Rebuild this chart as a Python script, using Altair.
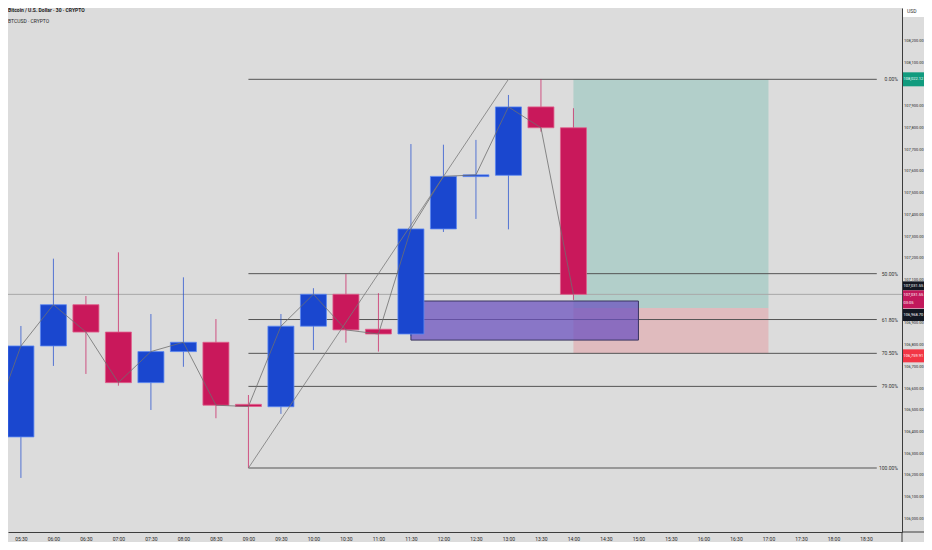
import altair as alt
import pandas as pd

# ---------------- data ----------------
title_line1 = "Bitcoin / U.S. Dollar · 30 · CRYPTO"
title_line2 = "BTCUSD · CRYPTO"
currency = "USD"

candle_times = ["05:30", "06:00", "06:30", "07:00", "07:30", "08:00", "08:30", "09:00", "09:30",
                "10:00", "10:30", "11:00", "11:30", "12:00", "12:30", "13:00", "13:30", "14:00"]
opens = [106375, 106794, 106984, 106858, 106625, 106768, 106811, 106525, 106514,
         106885, 107032, 106871, 106849, 107333, 107574, 107580, 107895, 107799]
highs = [106886, 107196, 107024, 107225, 106941, 107110, 106918, 106568, 106941,
         107060, 107125, 107037, 107724, 107721, 107743, 107950, 108022.12, 107889]
lows = [106186, 106702, 106665, 106611, 106499, 106698, 106461, 106231.75, 106481,
        106775, 106809, 106768, 106840, 107319, 107379, 107331, 107781, 107006]
closes = [106794, 106984, 106858, 106625, 106768, 106811, 106521, 106515, 106885,
          107032, 106868, 106849, 107333, 107575, 107582, 107895, 107799, 107031.55]
prior_time = "05:00"
prior_close = 106380

time_ticks = ["05:30", "06:00", "06:30", "07:00", "07:30", "08:00", "08:30", "09:00", "09:30",
              "10:00", "10:30", "11:00", "11:30", "12:00", "12:30", "13:00", "13:30", "14:00",
              "14:30", "15:00", "15:30", "16:00", "16:30", "17:00", "17:30", "18:00", "18:30"]
# price-scale labels that are visible (108,000 and 107,000 sit under the price tags)
price_ticks = [106000, 106100, 106200, 106300, 106400, 106500, 106600, 106700, 106800,
               106900, 107100, 107200, 107300, 107400, 107500, 107600, 107700, 107800,
               107900, 108100, 108200]

fib_labels = ["0.00%", "50.00%", "61.80%", "70.50%", "79.00%", "100.00%"]
fib_prices = [108022.12, 107126.94, 106915.69, 106759.91, 106607.73, 106231.75]
fib_start, fib_end = "09:00", "18:40"
fib_trend_times = ["09:00", "13:00"]
fib_trend_prices = [106231.75, 108022.12]

pos_start, pos_end = "14:00", "17:00"
target_price = 108022.12
entry_price = 106968.70
stop_price = 106759.91

zone_times = ["11:30", "15:00"]
zone_prices = [107001, 106821]

last_price = 107031.55
countdown = "03:05"


def hrs(t):
    h, m = t.split(":")
    return int(h) + int(m) / 60.0


# ---------------- styling ----------------
W, H = 894, 524
PAD_R = 22
X_DOMAIN = [5.3783, 18.9775]
Y_DOMAIN = [105937.0, 108350.6]
FONT = "Roboto"
FS = 5
FS_PRICE = 4.0
BG = "#dcdcdc"
BLUE = "#1a47cf"
RED = "#c9185b"
BLUE_EDGE = "#5a86f2"
RED_EDGE = "#e0608c"

xscale = alt.Scale(domain=X_DOMAIN, nice=False, zero=False)
yscale = alt.Scale(domain=Y_DOMAIN, nice=False, zero=False)

xaxis = alt.Axis(values=[hrs(t) for t in time_ticks],
                 labelExpr="format(floor(datum.value),'02d') + ':' + (datum.value % 1 > 0.25 ? '30' : '00')",
                 title=None, grid=False, ticks=False, tickSize=0, domain=True,
                 domainColor="#3c3c3c", domainWidth=1, labelFont=FONT, labelFontSize=FS,
                 labelColor="#2a2a2a", labelPadding=4, labelOverlap=False, labelFlush=False)
yaxis = alt.Axis(values=price_ticks, format=",.2f", orient="right", title=None, grid=False,
                 ticks=False, tickSize=0, domain=True, domainColor="#3c3c3c", domainWidth=1,
                 labelFont=FONT, labelFontSize=FS_PRICE, labelColor="#2a2a2a", labelPadding=1.5,
                 labelOverlap=False, labelFlush=False, labelBaseline="middle")


def X(field):
    return alt.X(field, type="quantitative", scale=xscale, axis=xaxis)


def Y(field):
    return alt.Y(field, type="quantitative", scale=yscale, axis=yaxis)


# ---------------- tables ----------------
candles = pd.DataFrame({
    "t": [hrs(t) for t in candle_times],
    "o": opens, "h": highs, "l": lows, "c": closes,
})
candles["dir"] = ["up" if c >= o else "down" for o, c in zip(opens, closes)]

close_line = pd.DataFrame({
    "t": [hrs(prior_time)] + [hrs(t) for t in candle_times],
    "p": [prior_close] + closes,
})
close_line["i"] = range(len(close_line))

fib = pd.DataFrame({"p": fib_prices, "label": fib_labels,
                    "t1": hrs(fib_start), "t2": hrs(fib_end)})
trend = pd.DataFrame({"t": [hrs(t) for t in fib_trend_times], "p": fib_trend_prices, "i": [0, 1]})

profit = pd.DataFrame({"t1": [hrs(pos_start)], "t2": [hrs(pos_end)], "p1": [target_price], "p2": [entry_price]})
loss = pd.DataFrame({"t1": [hrs(pos_start)], "t2": [hrs(pos_end)], "p1": [entry_price], "p2": [stop_price]})
zone = pd.DataFrame({"t1": [hrs(zone_times[0])], "t2": [hrs(zone_times[1])],
                     "p1": [zone_prices[0]], "p2": [zone_prices[1]]})
last = pd.DataFrame({"p": [last_price]})
one = pd.DataFrame({"a": [0]})

dir_scale = alt.Scale(domain=["up", "down"], range=[BLUE, RED])
edge_scale = alt.Scale(domain=["up", "down"], range=[BLUE_EDGE, RED_EDGE])

# ---------------- layers ----------------
profit_l = alt.Chart(profit).mark_rect(fill="#089981", fillOpacity=0.2).encode(
    x=X("t1"), x2="t2", y=Y("p1"), y2="p2")
loss_l = alt.Chart(loss).mark_rect(fill="#f23645", fillOpacity=0.2).encode(
    x=X("t1"), x2="t2", y=Y("p1"), y2="p2")

fib_l = alt.Chart(fib).mark_rule(color="#555555", strokeWidth=1).encode(
    x=X("t1"), x2="t2", y=Y("p"))
fib_txt = alt.Chart(fib).mark_text(align="right", baseline="middle", font=FONT, fontSize=FS,
                                   color="#333333").encode(
    x=alt.value(890), y=Y("p"), text="label:N")

last_l = alt.Chart(last).mark_rule(color="#a9a9a9", strokeWidth=1).encode(
    y=Y("p"), x=alt.value(0), x2=alt.value(W))

zone_l = alt.Chart(zone).mark_rect(fill="#6a4fbf", fillOpacity=0.72, stroke="#3a3560",
                                   strokeWidth=1).encode(
    x=X("t1"), x2="t2", y=Y("p1"), y2="p2")

wicks = alt.Chart(candles).mark_rule(strokeWidth=1, opacity=0.7).encode(
    x=X("t"), y=Y("l"), y2="h",
    color=alt.Color("dir:N", scale=dir_scale, legend=None))
bodies = alt.Chart(candles).mark_bar(size=26, strokeWidth=0.8).encode(
    x=X("t"), y=Y("o"), y2="c",
    color=alt.Color("dir:N", scale=dir_scale, legend=None),
    stroke=alt.Stroke("dir:N", scale=edge_scale, legend=None))

close_l = alt.Chart(close_line).mark_line(color="#6e6e6e", strokeWidth=0.8, clip=True).encode(
    x=X("t"), y=Y("p"), order="i:Q")
trend_l = alt.Chart(trend).mark_line(color="#7a7a7a", strokeWidth=0.8).encode(
    x=X("t"), y=Y("p"), order="i:Q")

TAG_X1, TAG_X2 = 895, W + PAD_R


def tag(price, fill, top, bottom, lines):
    d = pd.DataFrame({"p": [price]})
    layers = [alt.Chart(d).mark_rect(fill=fill, yOffset=top, y2Offset=bottom).encode(
        y=Y("p"), y2="p", x=alt.value(TAG_X1), x2=alt.value(TAG_X2))]
    for text, dy in lines:
        layers.append(alt.Chart(d).mark_text(align="left", baseline="middle", font=FONT,
                                             fontSize=FS_PRICE, color="white", dy=dy).encode(
            y=Y("p"), x=alt.value(TAG_X1 + 0.5), text=alt.value(text)))
    return layers


tags = []
tags += tag(target_price, "#119b7e", -7, 7, [(f"{target_price:,.2f}", 0)])
tags += tag(last_price, "#131722", -13, -4, [(f"{last_price:,.2f}", -8.5)])
tags += tag(last_price, "#c2185b", -4, 14, [(f"{last_price:,.2f}", 0.5), (countdown, 8.5)])
tags += tag(entry_price, "#131722", 1, 13, [(f"{entry_price:,.2f}", 7)])
tags += tag(stop_price, "#f23645", -4, 9, [(f"{stop_price:,.2f}", 2.5)])

usd_box = alt.Chart(one).mark_rect(fill="white").encode(
    x=alt.value(895), x2=alt.value(W + PAD_R), y=alt.value(0), y2=alt.value(9))
usd_txt = alt.Chart(one).mark_text(align="left", baseline="middle", font=FONT, fontSize=FS,
                                   color="#333333").encode(
    x=alt.value(899), y=alt.value(3), text=alt.value(currency))
t1 = alt.Chart(one).mark_text(align="left", baseline="middle", font=FONT, fontSize=FS,
                              color="#1c1c1c", fontWeight="bold").encode(
    x=alt.value(0), y=alt.value(2), text=alt.value(title_line1))
t2 = alt.Chart(one).mark_text(align="left", baseline="middle", font=FONT, fontSize=FS,
                              color="#2a2a2a").encode(
    x=alt.value(0), y=alt.value(13), text=alt.value(title_line2))

bottom_line = alt.Chart(one).mark_rule(color="#3c3c3c", strokeWidth=1).encode(
    x=alt.value(W), x2=alt.value(W + PAD_R), y=alt.value(H))
right_line = alt.Chart(one).mark_rule(color="#3c3c3c", strokeWidth=1).encode(
    x=alt.value(W), y=alt.value(H), y2=alt.value(H + 12))

chart = alt.layer(
    profit_l, loss_l, fib_l, fib_txt, last_l, zone_l, wicks, bodies, close_l, trend_l,
    *tags, usd_box, usd_txt, t1, t2, bottom_line, right_line
).properties(
    width=W, height=H,
    padding={"left": 0, "top": 0, "right": PAD_R, "bottom": 10},
    autosize=alt.AutoSizeParams(type="none"),
    background=BG,
).configure_view(stroke=None)

chart.save("out.html", embed_options={"renderer": "svg", "actions": False})
